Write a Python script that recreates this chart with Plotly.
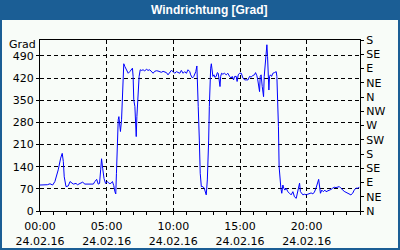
import plotly.graph_objects as go

# ---- data ----
date = "2016-02-24"
times = [
    "00:00","00:18","00:33","00:45","00:57","01:07","01:22","01:33","01:40","01:45",
    "01:49","01:57","02:07","02:15","02:22","02:30","02:42","02:49","03:00","03:12",
    "03:22","03:36","04:00","04:07","04:15","04:22","04:28","04:33","04:37","04:42",
    "04:48","04:55","05:03","05:11","05:19","05:26","05:32","05:37","05:41","05:44",
    "05:47","05:52","05:55","05:58","06:02","06:07","06:10","06:14","06:17","06:22",
    "06:29","06:37","06:44","06:52","06:56","06:59","07:02","07:07","07:10","07:13",
    "07:16","07:19","07:23","07:26","07:31","07:37","07:44","07:51","07:59","08:06",
    "08:14","08:21","08:29","08:36","08:44","08:51","08:59","09:06","09:14","09:21",
    "09:29","09:36","09:44","09:51","09:59","10:06","10:14","10:21","10:29","10:36",
    "10:44","10:51","10:59","11:06","11:14","11:18","11:26","11:32","11:36","11:41",
    "11:46","11:49","11:52","11:57","12:01","12:06","12:13","12:19","12:24","12:28",
    "12:33","12:36","12:39","12:42","12:45","12:48","12:51","12:54","12:58","13:03",
    "13:07","13:13","13:18","13:22","13:25","13:30","13:33","13:37","13:43","13:50",
    "13:58","14:05","14:13","14:20","14:25","14:31","14:36","14:43","14:47","14:52",
    "14:58","15:06","15:13","15:21","15:28","15:36","15:43","15:50","15:58","16:05",
    "16:10","16:16","16:20","16:25","16:28","16:31","16:35","16:40","16:43","16:46",
    "16:49","16:52","16:55","16:58","17:01","17:04","17:07","17:10","17:13","17:17",
    "17:22","17:28","17:35","17:43","17:46","17:50","17:53","17:56","17:59","18:04",
    "18:08","18:13","18:17","18:22","18:28","18:35","18:43","18:50","18:58","19:05",
    "19:13","19:20","19:28","19:32","19:37","19:43","19:50","19:58","20:05","20:13",
    "20:20","20:28","20:35","20:42","20:50","20:54","21:02","21:08","21:15","21:22",
    "21:27","21:34","21:42","21:49","21:57","22:04","22:12","22:19","22:27","22:34",
    "22:42","22:49","22:57","23:05","23:12","23:19","23:27","23:34","23:42","23:49",
    "23:57",
]
direction = [
    82, 82, 83, 86, 82, 93, 130, 167, 182, 156,
    108, 77, 79, 93, 90, 85, 87, 83, 87, 91,
    85, 85, 85, 93, 100, 85, 87, 130, 165, 135,
    103, 87, 93, 87, 87, 93, 80, 61, 54, 119,
    214, 288, 298, 266, 251, 288, 340, 425, 465, 456,
    446, 435, 440, 446, 451, 425, 351, 330, 277, 235,
    298, 351, 393, 425, 446, 444, 446, 442, 448, 444,
    446, 441, 435, 441, 443, 442, 440, 438, 441, 440,
    437, 430, 437, 444, 440, 435, 440, 438, 435, 444,
    435, 440, 435, 446, 440, 430, 420, 425, 430, 440,
    458, 414, 330, 224, 119, 77, 77, 72, 61, 51,
    98, 140, 224, 330, 414, 451, 465, 446, 425, 430,
    422, 425, 437, 435, 420, 393, 425, 435, 432, 435,
    430, 435, 425, 420, 425, 414, 425, 425, 409, 430,
    435, 435, 420, 414, 414, 414, 425, 423, 428, 430,
    437, 427, 414, 393, 377, 425, 430, 393, 377, 361,
    425, 451, 477, 498, 525, 488, 435, 382, 425, 430,
    425, 435, 437, 440, 425, 351, 266, 140, 98, 72,
    56, 82, 72, 66, 72, 61, 56, 51, 61, 45,
    40, 61, 88, 61, 56, 51, 53, 51, 53, 56,
    57, 54, 60, 72, 88, 100, 56, 66, 61, 66,
    61, 63, 64, 68, 72, 75, 74, 76, 77, 72,
    66, 62, 59, 56, 56, 51, 56, 66, 72, 72,
    75,
]
assert len(times) == len(direction)

left_ticks = [0, 70, 140, 210, 280, 350, 420, 490]
right_tickvals = [0, 45, 90, 135, 180, 225, 270, 315, 360, 405, 450, 495, 540]
right_ticktext = ["N", "NE", "E", "SE", "S", "SW", "W", "NW", "N", "NE", "E", "SE", "S"]
title_text = "Windrichtung [Grad]"
unit_text = "Grad"

# ---- figure ----
W, H = 400, 250
ML, MR, MT, MB = 40, 40, 40, 39
PW, PH = W - ML - MR, H - MT - MB


def px(xp):
    return (xp - ML) / PW


def py(yp):
    return (H - MB - yp) / PH


BLUE = "#1b5e95"
BG = "#f8fcf8"
FONT = "DejaVu Sans"

xs = [f"{date} {t}" for t in times]

fig = go.Figure()
fig.add_trace(go.Scatter(x=xs, y=direction, mode="lines",
                         line=dict(color="#0000ff", width=1),
                         hoverinfo="skip", showlegend=False))
fig.add_trace(go.Scatter(x=[xs[0]], y=[direction[0]], yaxis="y2", mode="lines",
                         line=dict(width=0), hoverinfo="skip", showlegend=False))

fig.update_layout(
    width=W, height=H,
    margin=dict(l=ML, r=MR, t=MT, b=MB, pad=0, autoexpand=False),
    paper_bgcolor=BLUE,
    plot_bgcolor=BG,
    showlegend=False,
    font=dict(family=FONT, size=11, color="black"),
    xaxis=dict(
        type="date",
        range=[f"{date} 00:00", "2016-02-25 00:00"],
        tick0=f"{date} 00:00", dtick=5 * 3600000,
        tickformat="%H:%M<br>%d.%m.%y",
        ticks="outside", ticklen=3, tickcolor="black", tickwidth=1,
        ticklabelstandoff=2, automargin=False,
        showgrid=True, gridcolor="black", gridwidth=1, griddash="4px,3px",
        showline=True, linecolor="black", linewidth=1, mirror=True,
        zeroline=False,
        minor=dict(dtick=3600000, ticks="outside", ticklen=3, tickcolor="black",
                   showgrid=False),
        tickfont=dict(family=FONT, size=11, color="black"),
        fixedrange=True,
    ),
    yaxis=dict(
        range=[0, 540], tickvals=left_ticks, automargin=False,
        ticks="outside", ticklen=3, tickcolor="black",
        showgrid=True, gridcolor="black", gridwidth=1, griddash="4px,3px",
        showline=True, linecolor="black", linewidth=1,
        zeroline=False,
        tickfont=dict(family=FONT, size=11, color="black"),
        fixedrange=True,
    ),
    yaxis2=dict(
        range=[0, 540], tickvals=right_tickvals, ticktext=right_ticktext,
        overlaying="y", side="right", automargin=False,
        ticks="outside", ticklen=3, tickcolor="black",
        showgrid=False, zeroline=False,
        showline=True, linecolor="black", linewidth=1,
        tickfont=dict(family=FONT, size=11, color="black"),
        fixedrange=True,
    ),
    shapes=[
        dict(type="rect", xref="paper", yref="paper", layer="below",
             x0=px(2), x1=px(398), y0=py(248), y1=py(20),
             fillcolor=BG, line=dict(width=0)),
    ],
    annotations=[
        dict(text=f"<b>{title_text}</b>", xref="paper", yref="paper",
             x=px(209.5), y=py(10), xanchor="center", yanchor="middle",
             showarrow=False,
             font=dict(family="Liberation Sans", size=12, color="white")),
        dict(text=unit_text, xref="paper", yref="paper",
             x=px(36.5), y=py(44.5), xanchor="right", yanchor="middle",
             showarrow=False, borderpad=0,
             font=dict(family=FONT, size=11, color="black")),
    ],
)

fig.write_html("out.html", config={"displayModeBar": False})
